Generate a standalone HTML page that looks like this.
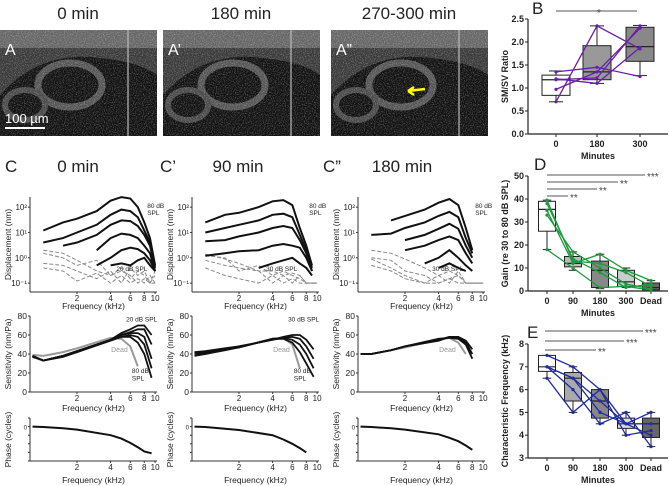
<!DOCTYPE html>
<html><head><meta charset="utf-8"><style>
html,body{margin:0;padding:0;background:#fff;}
svg{display:block;font-family:"Liberation Sans",sans-serif;}
</style></head><body>
<svg id="fig" width="669" height="486" viewBox="0 0 669 486">
<defs>
<filter id="speckle" x="0" y="0" width="100%" height="100%">
<feTurbulence type="fractalNoise" baseFrequency="0.9" numOctaves="2" seed="3" result="n"/>
<feColorMatrix in="n" type="matrix" values="0 0 0 0 1  0 0 0 0 1  0 0 0 0 1  2 0 0 0 -0.9"/>
</filter>
</defs>
</svg>
<script>
const S=document.getElementById('fig');const NS='http://www.w3.org/2000/svg';
function el(t,a,p){const e=document.createElementNS(NS,t);for(const k in a)e.setAttribute(k,a[k]);(p||S).appendChild(e);return e;}
function tx(x,y,s,size,anchor,extra){const e=el('text',Object.assign({x:x,y:y,'font-size':size,'text-anchor':anchor||'middle',fill:'#222'},extra||{}));e.textContent=s;return e;}

// ---------- OCT images ----------
const imgTitles=['0 min','180 min','270-300 min'];
const imgLabels=['A','A’','A”'];
const imgX=[0,163,331];
imgX.forEach((x0,i)=>{
  const g=el('g',{});
  
  
  el('rect',{x:x0,y:30,width:157,height:106,fill:'#111'},g);
  el('path',{d:`M${x0} 95 Q${x0+40} 50 ${x0+100} 58 Q${x0+140} 62 ${x0+157} 75 L${x0+157} 30 L${x0} 30Z`,fill:'#3a3a3a'},g);
  el('rect',{x:x0,y:30,width:157,height:18,fill:'#666'},g);
  el('ellipse',{cx:x0+70,cy:85,rx:32,ry:22,fill:'none',stroke:'#555','stroke-width':7},g);
  el('ellipse',{cx:x0+25,cy:105,rx:20,ry:15,fill:'none',stroke:'#4a4a4a','stroke-width':6},g);
  el('rect',{x:x0,y:30,width:157,height:106,filter:'url(#speckle)',opacity:0.45},g);
  el('rect',{x:x0+127,y:30,width:2,height:106,fill:'#bbb',opacity:0.6},g);
  const t=tx(x0+78,19,imgTitles[i],17);
  const l=tx(x0+5,55,imgLabels[i],16,'start',{fill:'#fff'});
});
el('line',{x1:5,y1:128,x2:45,y2:128,stroke:'#fff','stroke-width':2});
const sb=tx(5,123,'100 µm',13,'start',{fill:'#fff'});
el('path',{d:'M425 89 L408 91 M408 91 l6 -4 M408 91 l6 4',stroke:'#ff0','stroke-width':2.5,fill:'none'});

// ---------- C panels ----------
const colX=[30,192,358];const W=127;
const colTitle=[['C','0 min',5,78],['C’','90 min',160,238],['C”','180 min',323,402]];
const fmin=0.76,fmax=10.4;
function fx(c,f){return colX[c]+W*(Math.log10(f)-Math.log10(fmin))/(Math.log10(fmax)-Math.log10(fmin));}
const dTop=197,dBot=292,dLmin=-1.35,dLmax=2.4;
function dy(v){return dBot-(Math.log10(v)-dLmin)/(dLmax-dLmin)*(dBot-dTop);}
const sTop=316,sBot=392;function sy(v){return sBot-v/80*(sBot-sTop);}
const pTop=418,pBot=461;function py(v){return pTop+(1-v)/5*(pBot-pTop);}

const F=[1,1.5,2,3,4,5,6,7,8,9,10];
const disp=[
 [[12,25,35,70,180,250,220,100,25,6,0.5],[4,6,10,20,50,80,70,40,12,4,0.5],[null,3,4,8,20,30,28,18,8,3,0.4],[null,null,null,2,6,9,8,6,3,1.5,0.3],[null,null,null,0.5,1,2,2.5,2.2,1.5,0.8,0.3],[null,null,null,null,0.5,0.6,0.5,0.8,1,0.5,0.3]],
 [[25,50,60,100,170,190,120,15,3,0.5,null],[10,15,20,30,50,55,40,8,2,0.4,null],[4.5,5,7,10,15,18,15,5,1.5,0.3,null],[1.2,1.5,1.8,2,3,3.5,3,2.5,1,0.3,null],[null,null,null,0.4,0.6,0.8,1,0.6,0.4,0.2,null]],
 [[null,30,45,80,150,210,120,15,2,null,null],[8,9,15,25,45,65,40,6,1.5,null,null],[null,null,5,8,14,22,14,3,1,null,null],[null,null,2,3,5,7,5,1.5,0.6,null,null],[null,null,null,0.6,1,2,1,0.5,0.3,null,null],[null,null,null,null,0.4,0.6,0.4,0.3,null,null,null]]
];
const dash=[
 [[2,1.5,0.8,0.3,0.2,0.4,0.15,0.3,0.2,0.1,0.3],[0.6,0.5,0.3,0.15,0.3,0.1,0.4,0.2,0.3,0.1,0.2],[0.4,0.3,0.12,0.25,0.1,0.2,0.1,0.15,0.1,0.2,0.1],[1.5,1,0.5,0.8,0.2,0.3,0.2,0.1,0.15,0.1,0.1]],
 [[1.2,1,0.3,0.5,0.2,0.3,0.2,0.15,0.1,0.1,0.1],[0.8,0.5,0.4,0.3,0.1,0.2,0.1,0.2,0.1,0.1,0.1],[0.4,0.2,0.15,0.1,0.2,0.1,0.15,0.1,0.1,0.1,0.1],[1.4,0.9,0.6,0.3,0.3,0.2,0.25,0.2,0.1,0.1,0.1]],
 [[2,1.5,0.9,0.4,0.2,0.3,0.2,0.1,0.1,0.1,0.1],[1,0.8,0.3,0.2,0.1,0.15,0.2,0.1,0.1,0.1,0.1],[0.5,0.3,0.15,0.1,0.2,0.1,0.3,0.1,0.1,0.1,0.1],[0.9,0.4,0.2,0.1,0.1,0.15,0.1,0.1,0.1,0.1,0.1]]
];
const sens=[
 [[38,33,38,43,55,62,66,70,70,60],[38,33,38,43,55,60,63,66,66,50],[38,33,38,43,55,60,62,62,58,35],[38,33,38,42,55,58,60,58,50,25],[37,33,37,42,54,58,58,52,40,15]],
 [[42,43,46,48,55,58,60,60,55,45],[41,42,45,48,55,57,58,56,48,35],[40,41,45,47,56,57,55,50,40,25],[38,40,44,47,56,56,52,42,30,16]],
 [[40,40,44,48,55,58,57,52,40,null],[40,40,44,48,54,58,58,54,45,null],[40,40,44,48,56,57,56,50,35,null]]
];
const FS=[0.8,1,1.5,2,4,5,6,7,8,9.3];
const dead=[[39,38,42,46,57,56,48,27,null,null],[41,40,45,47,56,57,50,25,null,null],[40,40,44,47,55,57,52,40,null,null]];
const phase=[[0,-0.05,-0.2,-0.35,-1,-1.4,-1.9,-2.4,-2.9,-3.1],[0,-0.05,-0.25,-0.4,-1,-1.5,-2,-2.5,-3,null],[0,-0.05,-0.2,-0.35,-0.9,-1.3,-1.7,-2.2,-2.7,null]];
const ticksF=[2,4,6,8,10];

function path(xs,ys,c,yfn,attrs,parent,name){
  let d='';let pen=false;
  xs.forEach((f,i)=>{const v=ys[i];if(v==null){pen=false;return;}d+=(pen?'L':'M')+fx(c,f).toFixed(1)+' '+yfn(v).toFixed(1)+' ';pen=true;});
  const p=el('path',Object.assign({d:d,fill:'none'},attrs),parent);
  return p;
}
function freqAxis(c,yb,ylab){
  el('line',{x1:colX[c],y1:yb,x2:colX[c]+W,y2:yb,stroke:'#333','stroke-width':1});
  ticksF.forEach(f=>{el('line',{x1:fx(c,f),y1:yb,x2:fx(c,f),y2:yb+2,stroke:'#333'});tx(fx(c,f),yb+9,String(f),8);});
  const t=tx(colX[c]+W/2,ylab,'Frequency (kHz)',8.5);
}
for(let c=0;c<3;c++){
  const g=el('g',{});
  tx(colTitle[c][2],172,colTitle[c][0],17,'start');tx(colTitle[c][3],172,colTitle[c][1],17);
  // displacement
  el('line',{x1:colX[c],y1:dTop,x2:colX[c],y2:dBot,stroke:'#333'},g);
  [[-1,'10⁻¹'],[0,'10⁰'],[1,'10¹'],[2,'10²']].forEach(t=>{tx(colX[c]-3,dy(Math.pow(10,t[0]))+3,t[1],8,'end');el('line',{x1:colX[c]-2,y1:dy(Math.pow(10,t[0])),x2:colX[c],y2:dy(Math.pow(10,t[0])),stroke:'#333'},g);});
  tx(0,0,'Displacement (nm)',8.5,'middle',{transform:`translate(${colX[c]-19},${(dTop+dBot)/2}) rotate(-90)`});
  freqAxis(c,dBot,309);
  dash[c].forEach((s,i)=>path(F,s,c,dy,{stroke:'#888','stroke-width':1,'stroke-dasharray':'4 2'},g,'disp-dashed-'+i));
  disp[c].forEach((s,i)=>path(F,s,c,dy,{stroke:'#111','stroke-width':2},g,'disp-level-'+i));
  tx(fx(c,8.5),208,'80 dB',6.5,'start');tx(fx(c,8.5),215,'SPL',6.5,'start');
  tx(fx(c,c==0?4.5:3.5),271,(c==0?'20':'30')+' dB SPL',6.5,'start');
  // sensitivity
  el('line',{x1:colX[c],y1:sTop,x2:colX[c],y2:sBot,stroke:'#333'},g);
  [0,20,40,60,80].forEach(v=>{tx(colX[c]-3,sy(v)+3,String(v),8.5,'end');el('line',{x1:colX[c]-2,y1:sy(v),x2:colX[c],y2:sy(v),stroke:'#333'},g);});
  tx(0,0,'Sensitivity (nm/Pa)',8.5,'middle',{transform:`translate(${colX[c]-19},${(sTop+sBot)/2}) rotate(-90)`});
  freqAxis(c,sBot,411);
  path(FS,dead[c],c,sy,{stroke:'#999','stroke-width':2},g,'sens-dead');
  sens[c].forEach((s,i)=>path(FS,s,c,sy,{stroke:'#111','stroke-width':1.8},g,'sens-level-'+i));
  tx(fx(c,4.8),sy(42),'Dead',7,'middle',{fill:'#999'});
  if(c<2){tx(fx(c,5.5),sy(74),(c==0?'20':'30')+' dB SPL',6.5,'start');tx(fx(c,6.2),sy(20),'80 dB',6.5,'start');tx(fx(c,6.2),sy(12),'SPL',6.5,'start');}
  // phase
  el('line',{x1:colX[c],y1:pTop,x2:colX[c],y2:pBot,stroke:'#333'},g);
  for(let v=1;v>=-4;v--){el('line',{x1:colX[c]-2,y1:py(v),x2:colX[c],y2:py(v),stroke:'#333'},g);}
  tx(colX[c]-3,py(0)+3,'0',6,'end');
  tx(0,0,'Phase (cycles)',8.5,'middle',{transform:`translate(${colX[c]-19},${(pTop+pBot)/2}) rotate(-90)`});
  freqAxis(c,pBot,483);
  path(FS,phase[c],c,py,{stroke:'#111','stroke-width':2},g,'phase-curve');
}

// ---------- Box plots ----------
function boxPanel(o){
  const g=el('g',{});
  const y=v=>o.yb-(v-o.ymin)/(o.ymax-o.ymin)*(o.yb-o.yt);
  el('line',{x1:o.xa,y1:o.yt,x2:o.xa,y2:o.yb,stroke:'#222','stroke-width':1.2},g);
  el('line',{x1:o.xa,y1:o.yb,x2:o.xr,y2:o.yb,stroke:'#222','stroke-width':1.2},g);
  o.ticks.forEach(v=>{el('line',{x1:o.xa-3,y1:y(v),x2:o.xa,y2:y(v),stroke:'#222'},g);tx(o.xa-4,y(v)+3,o.fmt(v),9,'end',{'font-weight':'bold'});});
  o.cats.forEach((cname,i)=>{el('line',{x1:o.cx[i],y1:o.yb,x2:o.cx[i],y2:o.yb+3,stroke:'#222'},g);tx(o.cx[i],o.yb+13,cname,9,'middle',{'font-weight':'bold'});});
  const mt=tx((o.xa+o.xr)/2,o.yb+25,'Minutes',9,'middle',{'font-weight':'bold'});
  const yt=tx(0,0,o.ytitle,9,'middle',{'font-weight':'bold',transform:`translate(${o.xa-20},${(o.yt+o.yb)/2}) rotate(-90)`});
  const bw=o.bw;
  o.box.forEach((b,i)=>{
    const x=o.cx[i];
    el('line',{x1:x,y1:y(b[0]),x2:x,y2:y(b[4]),stroke:'#222'},g);
    el('line',{x1:x-bw/4,y1:y(b[0]),x2:x+bw/4,y2:y(b[0]),stroke:'#222'},g);
    el('line',{x1:x-bw/4,y1:y(b[4]),x2:x+bw/4,y2:y(b[4]),stroke:'#222'},g);
    const r=el('rect',{x:x-bw/2,y:y(b[3]),width:bw,height:y(b[1])-y(b[3]),fill:o.fills[i],stroke:'#222'},g);
    
    el('line',{x1:x-bw/2,y1:y(b[2]),x2:x+bw/2,y2:y(b[2]),stroke:'#222','stroke-width':1.2},g);
  });
  o.subj.forEach((s,k)=>{
    let d='';s.forEach((v,i)=>{d+=(i?'L':'M')+o.cx[i]+' '+y(v).toFixed(1);});
    const p=el('path',{d:d,fill:'none',stroke:o.color,'stroke-width':1.3},g);
    
    s.forEach((v,i)=>el('circle',{cx:o.cx[i],cy:y(v),r:1.6,fill:o.color},g));
  });
  o.sig.forEach(s=>{el('line',{x1:s[0],y1:s[1],x2:s[2],y2:s[1],stroke:'#555'},g);tx(s[2]+2+(s[4]||0),s[1]+5,s[3],10,s[4]===undefined?'start':'middle',{fill:'#444'});});
  tx(o.lx,o.ly,o.label,17,'start');
}
// B
const bCats=['0','180','300'];
const bBox=[[0.7,0.84,1.18,1.28,1.37],[1.1,1.18,1.35,1.92,2.35],[1.27,1.58,1.9,2.32,2.36]];
const bSubj=[[1.35,1.45,1.25],[1.2,1.1,1.88],[1.18,1.22,2.35],[0.97,1.35,2.3],[0.7,2.35,1.85]];
boxPanel({name:'panel-b',xa:528,xr:668,yt:19,yb:134,ymin:0,ymax:2.5,ticks:[0,0.5,1,1.5,2,2.5],fmt:v=>v.toFixed(1),cats:bCats,cx:[556,597,640],bw:28,box:bBox,fills:['#fff','#999','#888'],subj:bSubj,color:'#6a1fa8',ytitle:'SM/SV Ratio',sig:[[556,11,637,'*',-40]],lx:532,ly:14,label:'B'});
// D
const dCats=['0','90','180','300','Dead'];
const dBox=[[18,26,35.5,39,39.5],[9,10.5,12,15,17],[1,1.5,9,13,16],[1.5,2,4,9,10],[0,0.5,1.5,3.5,4.5]];
const dSubj=[[39.5,13,12,8,2],[35,12,16,9,4.5],[33,17,10,3,1],[18,10,1.5,2,0.5],[38,14,8,1.5,3]];
boxPanel({name:'panel-d',xa:528,xr:668,yt:176,yb:291,ymin:0,ymax:50,ticks:[0,10,20,30,40,50],fmt:v=>String(v),cats:dCats,cx:[547,573,600,626,651],bw:17,box:dBox,fills:['#fff','#bbb','#888','#ccc','#666'],subj:dSubj,color:'#1c9a3c',ytitle:'Gain (re 30 to 80 dB SPL)',sig:[[547,175,645,'***'],[547,182,618,'**'],[547,189,597,'**'],[547,196,568,'**']],lx:534,ly:170,label:'D'});
// E
const eCats=['0','90','180','300','Dead'];
const eBox=[[6.5,6.8,7,7.5,7.5],[5,5.5,6.5,6.75,7],[4.5,4.75,5.5,6,6],[4,4.3,4.5,4.75,5],[3.5,3.9,4.5,4.75,5]];
const eSubj=[[7.5,7,6,4.5,4.5],[7,6.5,5,4.5,5],[6.5,5,6,4,4.2],[7,6,4.5,5,3.5],[7,6.5,5.5,4.5,4]];
boxPanel({name:'panel-e',xa:528,xr:668,yt:344,yb:458,ymin:3,ymax:8,ticks:[3,4,5,6,7,8],fmt:v=>String(v),cats:eCats,cx:[547,573,600,626,651],bw:17,box:eBox,fills:['#fff','#aaa','#888','#ddd','#666'],subj:eSubj,color:'#1f2aa6',ytitle:'Characteristic Frequency (kHz)',sig:[[545,331,643,'***'],[545,341,624,'***'],[545,350,596,'**']],lx:527,ly:338,label:'E'});
</script>
</body></html>
